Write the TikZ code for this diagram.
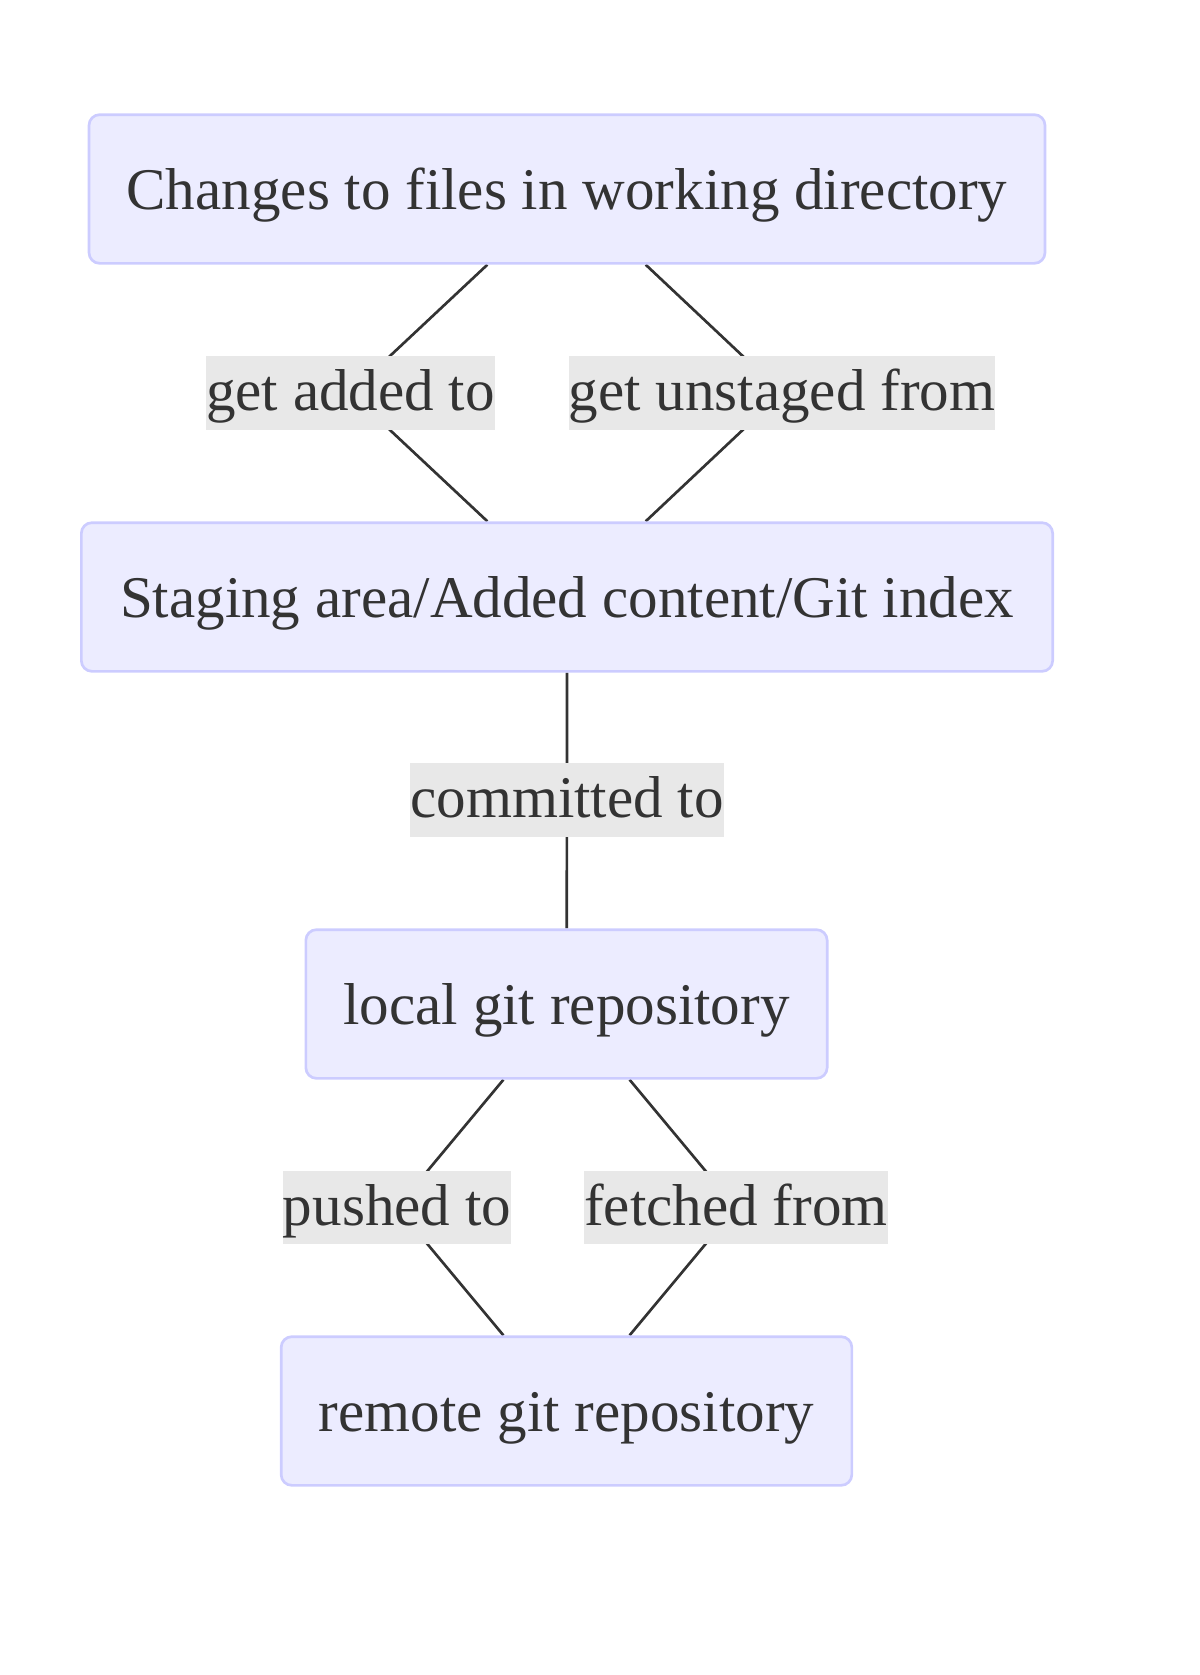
\documentclass[tikz,border=0pt]{standalone}
\usepackage{fontspec}
\setmainfont{Liberation Serif}
\newfontfamily\labelfont{Liberation Serif}
\usetikzlibrary{backgrounds}
\definecolor{boxfill}{HTML}{ECECFF}
\definecolor{boxline}{HTML}{CCCCFF}
\definecolor{lblfill}{HTML}{E8E8E8}
\definecolor{ink}{HTML}{333333}

\begin{document}
\begin{tikzpicture}[x=0.75pt, y=-0.75pt,
  box/.style={draw=boxline, fill=boxfill, line width=2pt, rounded corners=8pt,
              minimum height=111.5pt, inner sep=0pt, text=ink,
              text height=38pt, text depth=7.4pt,
              font=\labelfont\fontsize{44.3}{53}\selectfont},
  lbl/.style={fill=lblfill, inner sep=0pt, minimum height=55pt, text=ink,
              text height=35pt, text depth=8.2pt,
              font=\labelfont\fontsize{44.3}{53}\selectfont},
  edge/.style={draw=ink, line width=2pt}]
\useasboundingbox (0,0) rectangle (1200,1675);
\node[box, minimum width=717pt] (work) at (567,189) {Changes to files in working directory};
\node[box, minimum width=728.5pt] (stage) at (567,597) {Staging area/Added content/Git index};
\node[box, minimum width=391pt] (local) at (566.5,1004) {local git repository};
\node[box, minimum width=428pt] (remote) at (566.5,1411) {remote git repository};
\node[lbl] (added) at (350.5,393) {get added to};
\node[lbl] (unstaged) at (782,393) {get unstaged from};
\node[lbl] (committed) at (567,800) {committed to};
\node[lbl] (pushed) at (397,1207.5) {pushed to};
\node[lbl] (fetched) at (736,1207.5) {fetched from};
\begin{scope}[on background layer]
\draw[edge] ([xshift=-59.7pt]work.south) -- (added.center) -- ([xshift=-59.7pt]stage.north);
\draw[edge] ([xshift=59pt]work.south) -- (unstaged.center) -- ([xshift=59pt]stage.north);
\draw[edge] (stage) -- (committed) -- (local);
\draw[edge] ([xshift=-47.3pt]local.south) -- (pushed.center) -- ([xshift=-47.3pt]remote.north);
\draw[edge] ([xshift=47.3pt]local.south) -- (fetched.center) -- ([xshift=47.3pt]remote.north);
\end{scope}
\end{tikzpicture}
\end{document}
